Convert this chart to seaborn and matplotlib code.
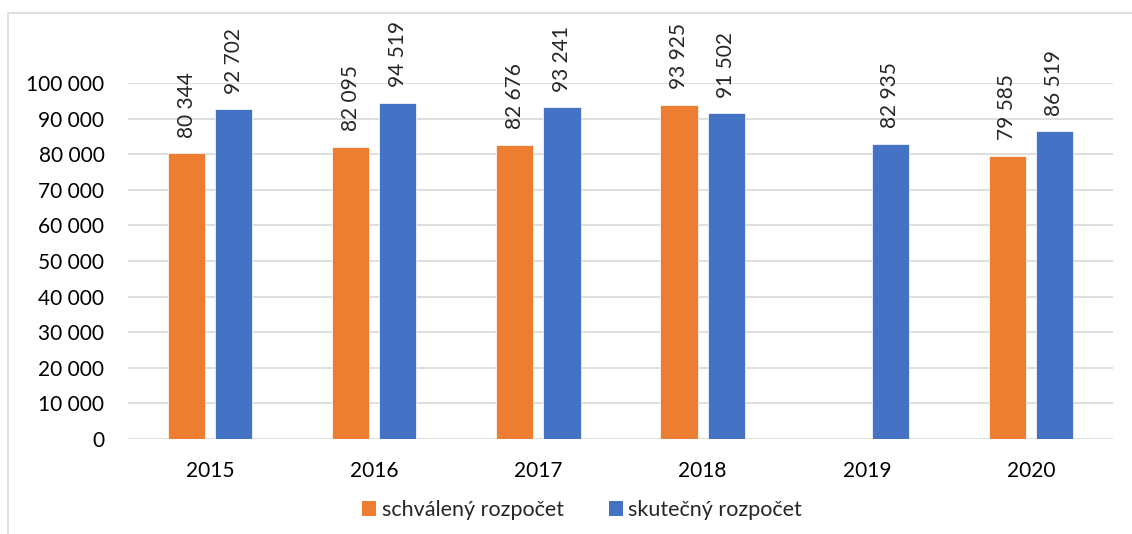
import numpy as np
import pandas as pd
import matplotlib
matplotlib.use("Agg")
import matplotlib.pyplot as plt
from matplotlib.patches import Rectangle, Patch
import seaborn as sns

years = ["2015", "2016", "2017", "2018", "2019", "2020"]
schvaleny = [80344, 82095, 82676, 93925, np.nan, 79585]
skutecny = [92702, 94519, 93241, 91502, 82935, 86519]
series_names = ["schválený rozpočet", "skutečný rozpočet"]
colors = ["#ED7D31", "#4472C4"]
yticks = list(range(0, 100001, 10000))

df = pd.DataFrame({
    "rok": years * 2,
    "rada": [series_names[0]] * len(years) + [series_names[1]] * len(years),
    "hodnota": schvaleny + skutecny,
})

sns.set_style("white")
plt.rcParams["font.family"] = ["Lato", "DejaVu Sans"]

def fmt(v):
    return f"{v:,.0f}".replace(",", " ")

fig = plt.figure(figsize=(11.32, 5.34), dpi=100)
ax = fig.add_axes([128 / 1132, 95 / 534, (1113 - 128) / 1132, (439 - 83) / 534])

sns.barplot(data=df, x="rok", y="hodnota", hue="rada", palette=colors, saturation=1,
            width=0.573, gap=0.21, errorbar=None, ax=ax, legend=False,
            edgecolor="white", linewidth=0.5)

ax.set_ylim(0, 100000)
ax.set_yticks(yticks)
ax.set_yticklabels([fmt(t) for t in yticks])
ax.set_xlim(-0.5, len(years) - 0.5)
ax.set_xlabel("")
ax.set_ylabel("")
for s in ax.spines.values():
    s.set_visible(False)
ax.yaxis.grid(True, color="#D9D9D9", lw=1.2)
ax.set_axisbelow(True)
ax.tick_params(axis="both", length=0, labelsize=15, colors="#000000")
ax.tick_params(axis="y", pad=17)
ax.tick_params(axis="x", pad=16)

# popisky hodnot nad sloupci
for cont in ax.containers:
    for bar in cont:
        if bar is None:
            continue
        h = bar.get_height()
        if np.isnan(h):
            continue
        ax.annotate(fmt(h), (bar.get_x() + bar.get_width() / 2, h),
                    xytext=(0, 11), textcoords="offset points",
                    rotation=90, ha="center", va="bottom", fontsize=15,
                    annotation_clip=False)

handles = [Patch(facecolor=c, edgecolor="none") for c in colors]
fig.legend(handles, series_names, loc="center", bbox_to_anchor=(582 / 1132, 24 / 534),
           ncol=2, frameon=False, fontsize=15.5, handlelength=0.65, handleheight=0.65,
           handletextpad=0.25, columnspacing=2.1)

fig.add_artist(Rectangle((8 / 1132, -0.1), 1.2, (534 - 13) / 534 + 0.1,
                         transform=fig.transFigure, fill=False, edgecolor="#D9D9D9", lw=1.2))

fig.savefig("out.png", dpi=100)
